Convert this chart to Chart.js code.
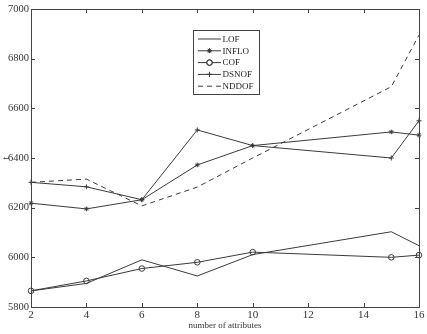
<!DOCTYPE html>
<html>
<head>
<meta charset="utf-8">
<script src="https://cdn.jsdelivr.net/npm/chart.js@4/dist/chart.umd.min.js"></script>
<style>
html,body{margin:0;padding:0;background:#fff;}
canvas{display:block;}
</style>
</head>
<body>
<canvas id="c" width="427" height="334"></canvas>
<script>
// ---- data ----
const attrs = [2, 4, 6, 8, 10, 15, 16];
const LOF   = [5865, 5895, 5990, 5925, 6011, 6103, 6047];
const INFLO = [6218, 6195, 6232, 6372, 6450, 6505, 6492];
const COF   = [5865, 5905, 5955, 5980, 6021, 6000, 6009];
const DSNOF = [6302, 6284, 6232, 6513, 6450, 6400, 6550];
const NDDOF = [6302, 6315, 6207, 6283, 6400, 6687, 6895];
const xTicks = [2, 4, 6, 8, 10, 12, 14, 16];
const yTicks = [5800, 6000, 6200, 6400, 6600, 6800, 7000];
const seriesNames = ['LOF', 'INFLO', 'COF', 'DSNOF', 'NDDOF'];

const pts = arr => arr.map((v, i) => ({x: attrs[i], y: v}));
const INK = '#3a3a3a';
const FONT = '"Liberation Serif", "DejaVu Serif", serif';

const styles = [
  {pointStyle: false, radius: 0, dash: []},
  {pointStyle: 'star', radius: 2.3, dash: []},
  {pointStyle: 'circle', radius: 2.8, dash: []},
  {pointStyle: 'cross', radius: 2.5, dash: []},
  {pointStyle: false, radius: 0, dash: [5, 4]}
];
const values = [LOF, INFLO, COF, DSNOF, NDDOF];

const datasets = seriesNames.map((n, i) => ({
  label: n,
  data: pts(values[i]),
  borderColor: INK,
  backgroundColor: 'rgba(0,0,0,0)',
  borderWidth: 1,
  borderDash: styles[i].dash,
  pointStyle: styles[i].pointStyle,
  pointRadius: styles[i].radius,
  pointBorderColor: INK,
  pointBorderWidth: 1,
  pointBackgroundColor: 'rgba(0,0,0,0)',
  tension: 0,
  clip: false
}));

const boxPlugin = {
  id: 'box',
  afterDraw(chart) {
    const ctx = chart.ctx, a = chart.chartArea;
    const xs = chart.scales.x, ys = chart.scales.y;
    ctx.save();
    ctx.strokeStyle = '#444';
    ctx.lineWidth = 1;
    ctx.setLineDash([]);
    ctx.strokeRect(Math.round(a.left) + 0.5, Math.round(a.top) + 0.5,
                   Math.round(a.right - a.left), Math.round(a.bottom - a.top));
    const L = 4;
    ctx.beginPath();
    xTicks.forEach(t => {
      const px = Math.round(xs.getPixelForValue(t)) + 0.5;
      ctx.moveTo(px, a.bottom); ctx.lineTo(px, a.bottom - L);
      ctx.moveTo(px, a.top); ctx.lineTo(px, a.top + L);
    });
    yTicks.forEach(t => {
      const py = Math.round(ys.getPixelForValue(t)) + 0.5;
      ctx.moveTo(a.left, py); ctx.lineTo(a.left + L, py);
      ctx.moveTo(a.right, py); ctx.lineTo(a.right - L, py);
    });
    ctx.stroke();

    // legend drawn from datasets
    const bx = 193.5, by = 30.5, bw = 66, bh = 64, rowH = 11.8, firstY = 39;
    ctx.fillStyle = '#fff';
    ctx.fillRect(bx, by, bw, bh);
    ctx.strokeStyle = '#444';
    ctx.strokeRect(bx, by, bw, bh);
    ctx.font = '9px ' + FONT;
    ctx.textBaseline = 'middle';
    ctx.textAlign = 'left';
    chart.data.datasets.forEach((ds, i) => {
      const y = firstY + i * rowH;
      ctx.strokeStyle = INK;
      ctx.lineWidth = 1;
      ctx.setLineDash(ds.borderDash || []);
      ctx.beginPath();
      ctx.moveTo(198, y); ctx.lineTo(221, y);
      ctx.stroke();
      ctx.setLineDash([]);
      if (ds.pointStyle) {
        ctx.fillStyle = '#fff';
        Chart.helpers.drawPoint(ctx, {
          pointStyle: ds.pointStyle, radius: ds.pointRadius,
          borderWidth: 1, rotation: 0
        }, 209.5, y);
        ctx.stroke();
      }
      ctx.fillStyle = '#222';
      ctx.fillText(ds.label, 222.5, y + 0.5);
    });
    ctx.restore();
  }
};

new Chart(document.getElementById('c'), {
  type: 'line',
  data: {datasets},
  options: {
    responsive: false,
    animation: false,
    devicePixelRatio: 1,
    layout: {padding: {left: 0, right: 8, top: 9, bottom: 0}},
    plugins: {legend: {display: false}, tooltip: {enabled: false}},
    scales: {
      x: {
        type: 'linear', min: 2, max: 16,
        afterBuildTicks: s => { s.ticks = xTicks.map(v => ({value: v})); },
        afterFit: s => { s.height = 27; },
        grid: {display: false, drawTicks: false},
        border: {display: false},
        ticks: {padding: 2, color: '#333', font: {family: FONT, size: 11}, maxRotation: 0, autoSkip: false},
        title: {display: true, text: 'number of attributes', color: '#333',
                font: {family: FONT, size: 9}, padding: {top: 0, bottom: 3}}
      },
      y: {
        type: 'linear', min: 5800, max: 7000,
        afterBuildTicks: s => { s.ticks = yTicks.map(v => ({value: v})); },
        afterFit: s => { s.width = 31; },
        grid: {display: false, drawTicks: false},
        border: {display: false},
        ticks: {padding: 2, color: '#333', font: {family: FONT, size: 10.5}, autoSkip: false,
                callback: v => String(v)},
        title: {display: true, text: 't', color: '#333',
                font: {family: FONT, size: 10}, padding: {top: 0, bottom: 0}}
      }
    }
  },
  plugins: [boxPlugin]
});
</script>
</body>
</html>
